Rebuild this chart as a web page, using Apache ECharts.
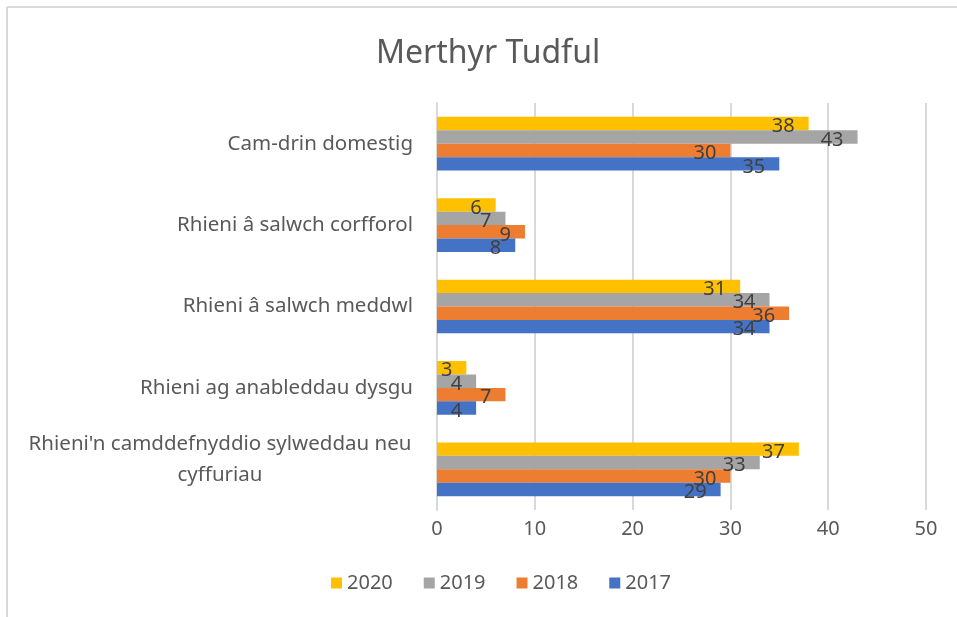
<!DOCTYPE html>
<html lang="cy">
<head>
	<meta charset="UTF-8">
	<title>Merthyr Tudful</title>
	<script src="https://cdn.jsdelivr.net/npm/echarts@6/dist/echarts.min.js"></script>
	<style>
		html, body { margin: 0; padding: 0; background: #fff; }
		#main { width: 957px; height: 617px; }
	</style>
</head>
<body>
	<div id="main"></div>
	<script>
		// categories, top to bottom
		var categories = [
			'Cam-drin domestig',
			'Rhieni â salwch corfforol',
			'Rhieni â salwch meddwl',
			'Rhieni ag anableddau dysgu',
			"Rhieni'n camddefnyddio sylweddau neu\ncyffuriau"
		];
		var years = ['2020', '2019', '2018', '2017'];
		var colors = ['#FFC000', '#A5A5A5', '#ED7D31', '#4472C4'];

		var data2020 = [38, 6, 31, 3, 37];
		var data2019 = [43, 7, 34, 4, 33];
		var data2018 = [30, 9, 36, 7, 30];
		var data2017 = [35, 8, 34, 4, 29];
		var xTicks = [0, 10, 20, 30, 40, 50];

		var allData = [data2020, data2019, data2018, data2017];
		var fontFam = '"Noto Sans", sans-serif';

		var series = years.map(function (y, i) {
			return {
				name: y,
				type: 'bar',
				data: allData[i],
				barGap: 0,
				barCategoryGap: '34%',
				itemStyle: { color: colors[i] },
				label: {
					show: true,
					position: 'insideRight',
					distance: 14,
					offset: [0, 3],
					color: '#404040',
					fontSize: 20,
					fontFamily: fontFam
				}
			};
		});

		var option = {
			color: colors,
			animation: false,
			title: {
				text: 'Merthyr Tudful',
				left: 371,
				top: 33,
				textStyle: { color: '#595959', fontSize: 32, fontWeight: 'normal', fontFamily: fontFam }
			},
			legend: {
				data: years,
				bottom: 19,
				left: 326,
				icon: 'rect',
				itemWidth: 11,
				itemHeight: 11,
				itemGap: 31,
				textStyle: { color: '#595959', fontSize: 20, fontFamily: fontFam }
			},
			grid: { left: 437, right: 31, top: 103, bottom: 107 },
			xAxis: {
				type: 'value',
				min: xTicks[0],
				max: xTicks[xTicks.length - 1],
				interval: 10,
				axisLine: { show: false },
				axisTick: { show: false },
				splitLine: { lineStyle: { color: '#D9D9D9', width: 2 } },
				axisLabel: { color: '#595959', fontSize: 20, margin: 9, fontFamily: fontFam }
			},
			yAxis: {
				type: 'category',
				inverse: true,
				data: categories,
				axisTick: { show: false },
				axisLine: { lineStyle: { color: '#D9D9D9', width: 2 } },
				axisLabel: {
					color: '#595959',
					fontSize: 20.5,
					margin: 24,
					lineHeight: 31,
					fontFamily: fontFam,
					formatter: function (v) {
						if (v.indexOf('\n') < 0) return v;
						// centred two-line label, nudged up like the original
						return v.split('\n').map(function (s) { return '{w|' + s + '}'; }).join('\n') + '\n{e|}';
					},
					rich: {
						w: { width: 386, align: 'center', color: '#595959', fontSize: 20.5, lineHeight: 31, fontFamily: fontFam },
						e: { lineHeight: 20, fontSize: 10 }
					}
				}
			},
			graphic: [
				{ type: 'line', shape: { x1: 7, y1: 7, x2: 957, y2: 7 }, style: { stroke: '#D9D9D9', lineWidth: 2 } },
				{ type: 'line', shape: { x1: 7, y1: 7, x2: 7, y2: 617 }, style: { stroke: '#D9D9D9', lineWidth: 2 } }
			],
			series: series
		};

		var myChart = echarts.init(document.getElementById('main'));
		myChart.setOption(option);
	</script>
</body>
</html>
